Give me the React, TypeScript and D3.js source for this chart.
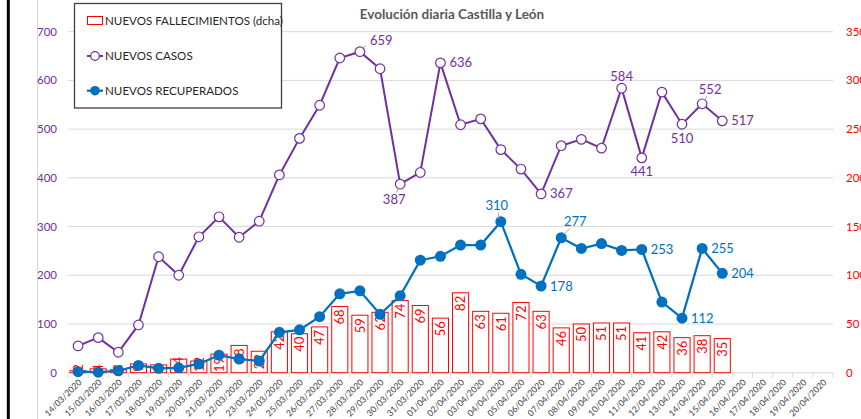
import React from 'react';
import * as d3 from 'd3';

// daily figures, 14/03/2020 .. 20/04/2020 (the last five days are still empty)
const fechas = [
  '14/03/2020', '15/03/2020', '16/03/2020', '17/03/2020', '18/03/2020', '19/03/2020', '20/03/2020',
  '21/03/2020', '22/03/2020', '23/03/2020', '24/03/2020', '25/03/2020', '26/03/2020', '27/03/2020',
  '28/03/2020', '29/03/2020', '30/03/2020', '31/03/2020', '01/04/2020', '02/04/2020', '03/04/2020',
  '04/04/2020', '05/04/2020', '06/04/2020', '07/04/2020', '08/04/2020', '09/04/2020', '10/04/2020',
  '11/04/2020', '12/04/2020', '13/04/2020', '14/04/2020', '15/04/2020', '16/04/2020', '17/04/2020',
  '18/04/2020', '19/04/2020', '20/04/2020',
];

const nuevosCasos = [
  55, 72, 42, 98, 238, 200, 279, 320, 278, 311, 406, 481, 549, 646, 659, 624, 387, 411, 636, 509,
  521, 458, 418, 367, 466, 479, 461, 584, 441, 576, 510, 552, 517,
];

const nuevosRecuperados = [
  2, 1, 4, 15, 9, 10, 18, 36, 28, 24, 83, 88, 115, 162, 168, 120, 158, 231, 239, 262, 262, 310,
  202, 178, 277, 255, 265, 251, 253, 145, 112, 255, 204,
];

const nuevosFallecimientos = [
  2, 4, 3, 9, 8, 14, 12, 19, 28, 22, 42, 40, 47, 68, 59, 62, 74, 69, 56, 82, 63, 61, 72, 63, 46,
  50, 51, 51, 41, 42, 36, 38, 35,
];

const ticksIzq = [0, 100, 200, 300, 400, 500, 600, 700];
const ticksDcha = [0, 50, 100, 150, 200, 250, 300, 350];

// which points carry a value label, and where it sits
const etiquetasCasos = [
  { i: 14, pos: 'ur' }, { i: 16, pos: 'bl' }, { i: 18, pos: 'r' }, { i: 23, pos: 'r' },
  { i: 27, pos: 'a' }, { i: 28, pos: 'b' }, { i: 30, pos: 'b' }, { i: 31, pos: 'ur2' }, { i: 32, pos: 'r' },
];
const etiquetasRecup = [
  { i: 21, pos: 'al' }, { i: 23, pos: 'r' }, { i: 24, pos: 'ur3' }, { i: 28, pos: 'r' },
  { i: 30, pos: 'r' }, { i: 31, pos: 'r' }, { i: 32, pos: 'r' },
];

const W = 861;
const H = 419;
const LEFT = 68;
const RIGHT = 833;
const TOP = 31.7;
const BASE = 372.7;

const PURPLE = '#7030A0';
const BLUE = '#0070C0';
const RED = '#FF0000';
const FONT = 'Lato, "Open Sans", sans-serif';

const offsets: Record<string, { dx: number; dy: number; anchor: string; leader?: boolean }> = {
  r: { dx: 9, dy: 0, anchor: 'start' },
  a: { dx: 0, dy: -12, anchor: 'middle' },
  b: { dx: 0, dy: 14, anchor: 'middle' },
  ur: { dx: 10, dy: -11, anchor: 'start', leader: true },
  ur2: { dx: 8, dy: -14, anchor: 'middle', leader: true },
  ur3: { dx: 14, dy: -16, anchor: 'middle', leader: true },
  bl: { dx: -6, dy: 15, anchor: 'middle', leader: true },
  al: { dx: -4, dy: -16, anchor: 'middle', leader: true },
};

const App = () => {
  const x = d3.scaleBand().domain(fechas).range([LEFT, RIGHT]).padding(0);
  const bw = x.bandwidth();
  const cx = (i: number) => (x(fechas[i]) as number) + bw / 2;
  const yL = d3.scaleLinear().domain([0, 700]).range([BASE, TOP]);
  const yR = d3.scaleLinear().domain([0, 350]).range([BASE, TOP]);

  const line = d3.line<number>().x((d, i) => cx(i)).y((d) => yL(d));

  const barW = bw * 0.8;

  const renderLabels = (items: { i: number; pos: string }[], values: number[], color: string) =>
    items.map(({ i, pos }) => {
      const o = offsets[pos];
      const px = cx(i);
      const py = yL(values[i]);
      return (
        <g key={`${color}-${i}`}>
          {o.leader && (
            <line x1={px + Math.sign(o.dx) * 2} y1={py + Math.sign(o.dy) * 3} x2={px + o.dx * 0.6} y2={py + o.dy * 0.55}
              stroke="#a6a6a6" strokeWidth={1} />
          )}
          <text x={px + o.dx} y={py + o.dy} dy="0.35em" textAnchor={o.anchor} fill={color}
            style={{ fontFamily: FONT, fontSize: 13 }}>{values[i]}</text>
        </g>
      );
    });

  return (
    <svg width={W} height={H} style={{ position: 'absolute', left: 0, top: 0, background: '#fff' }}>
      {/* page border bits */}
      <line x1={8.3} y1={0} x2={8.3} y2={H} stroke="#000" strokeWidth={3} />
      <line x1={37.5} y1={0} x2={37.5} y2={H} stroke="#d9d9d9" strokeWidth={1} />

      {/* title */}
      <text x={452} y={14} dy="0.35em" textAnchor="middle" fill="#595959"
        style={{ fontFamily: FONT, fontSize: 13.5, fontWeight: 700 }}>Evolución diaria Castilla y León</text>

      {/* grid */}
      {ticksIzq.slice(1).map((t) => (
        <line key={t} x1={LEFT} x2={RIGHT} y1={yL(t)} y2={yL(t)} stroke="#d9d9d9" strokeWidth={1} />
      ))}
      <line x1={LEFT} x2={RIGHT} y1={BASE} y2={BASE} stroke="#d9d9d9" strokeWidth={1} />
      {d3.range(fechas.length + 1).map((k) => (
        <line key={k} x1={LEFT + k * bw} x2={LEFT + k * bw} y1={BASE} y2={BASE + 5} stroke="#d9d9d9" strokeWidth={1} />
      ))}

      {/* left axis */}
      {ticksIzq.map((t) => (
        <text key={t} x={57} y={yL(t)} dy="0.35em" textAnchor="end" fill={PURPLE}
          style={{ fontFamily: FONT, fontSize: 11.5 }}>{t}</text>
      ))}
      {/* right axis (runs off the picture's edge, as in the source) */}
      {ticksDcha.map((t) => (
        <text key={t} x={846} y={yR(t)} dy="0.35em" textAnchor="start" fill={RED}
          style={{ fontFamily: FONT, fontSize: 11.5 }}>{t}</text>
      ))}

      {/* x labels */}
      {fechas.map((f, i) => (
        <text key={f} transform={`translate(${cx(i) + 2},${BASE + 8}) rotate(-45)`} textAnchor="end" dy="0.35em"
          fill="#404040" style={{ fontFamily: FONT, fontSize: 8.7 }}>{f}</text>
      ))}

      {/* bars (right axis) */}
      {nuevosFallecimientos.map((v, i) => (
        <rect key={i} x={cx(i) - barW / 2} y={yR(v)} width={barW} height={BASE - yR(v)}
          fill="#fff" stroke={RED} strokeWidth={1} />
      ))}
      {nuevosFallecimientos.map((v, i) => {
        const len = String(v).length * 7.4;
        const ay = Math.min(yR(v) + 3, BASE - len - 1);
        return (
          <text key={i} transform={`translate(${cx(i)},${ay}) rotate(-90)`} textAnchor="end" dy="0.36em"
            fill={RED} style={{ fontFamily: FONT, fontSize: 13 }}>{v}</text>
        );
      })}

      {/* casos */}
      <path d={line(nuevosCasos) || ''} fill="none" stroke={PURPLE} strokeWidth={2} />
      {nuevosCasos.map((v, i) => (
        <circle key={i} cx={cx(i)} cy={yL(v)} r={4.8} fill="#fff" stroke={PURPLE} strokeWidth={1.2} />
      ))}

      {/* recuperados */}
      <path d={line(nuevosRecuperados) || ''} fill="none" stroke={BLUE} strokeWidth={2.25} />
      {nuevosRecuperados.map((v, i) => (
        <circle key={i} cx={cx(i)} cy={yL(v)} r={5.5} fill={BLUE} />
      ))}

      {renderLabels(etiquetasCasos, nuevosCasos, PURPLE)}
      {renderLabels(etiquetasRecup, nuevosRecuperados, BLUE)}

      {/* legend */}
      <rect x={74.5} y={3.5} width={207} height={104.5} fill="#fff" stroke="#404040" strokeWidth={1.3} />
      <rect x={87.5} y={16.5} width={15} height={8} fill="#fff" stroke={RED} strokeWidth={1} />
      <text x={105} y={21} dy="0.35em" fill="#262626" style={{ fontFamily: FONT, fontSize: 11.6 }}>NUEVOS FALLECIMIENTOS (dcha)</text>
      <line x1={87} x2={103} y1={56} y2={56} stroke={PURPLE} strokeWidth={2} />
      <circle cx={95} cy={56} r={4.3} fill="#fff" stroke={PURPLE} strokeWidth={1.2} />
      <text x={105} y={56} dy="0.35em" fill="#262626" style={{ fontFamily: FONT, fontSize: 11.6 }}>NUEVOS CASOS</text>
      <line x1={87} x2={103} y1={90.7} y2={90.7} stroke={BLUE} strokeWidth={2.25} />
      <circle cx={95} cy={90.7} r={4.8} fill={BLUE} />
      <text x={105} y={90.7} dy="0.35em" fill="#262626" style={{ fontFamily: FONT, fontSize: 11.6 }}>NUEVOS RECUPERADOS</text>
    </svg>
  );
};

export default App;
